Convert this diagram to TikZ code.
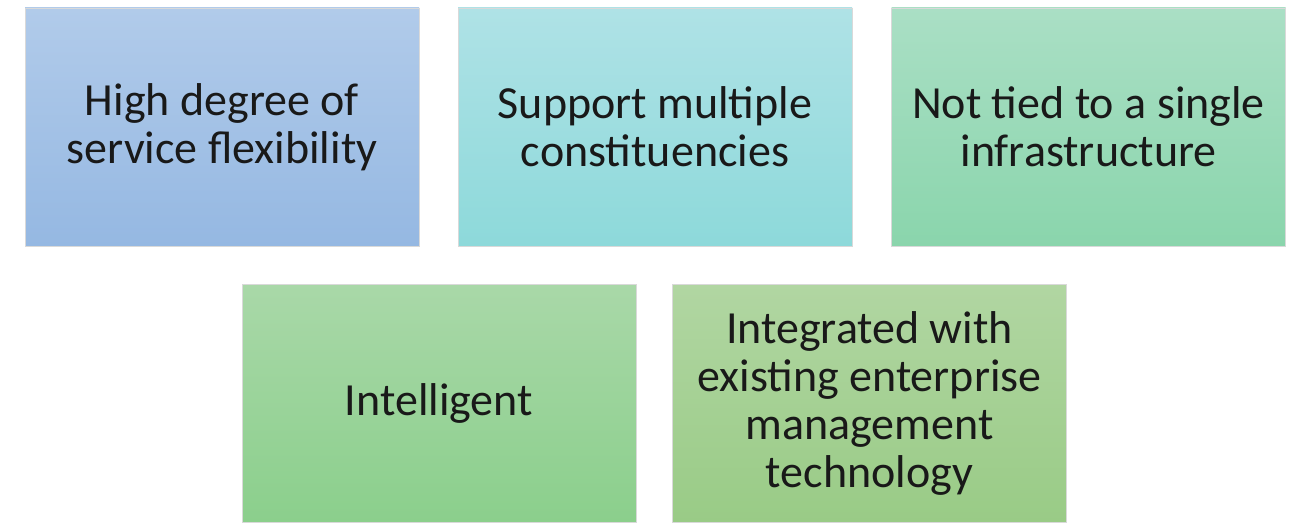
\documentclass[tikz,border=0pt]{standalone}
\usepackage{fontspec}
\setmainfont{Carlito}
\begin{document}
\begin{tikzpicture}[x=1pt,y=-1pt,
  card/.style={draw=black!15, line width=0.8pt, rectangle, minimum width=394pt, minimum height=238pt,
    inner sep=0pt, align=center, font=\fontsize{46}{48}\selectfont, text=black!90, shading=axis, shading angle=0},
]
\definecolor{bTop}{HTML}{B1CBEA}\definecolor{bBot}{HTML}{95B8E2}
\definecolor{cTop}{HTML}{AFE2E6}\definecolor{cBot}{HTML}{8DD9DA}
\definecolor{gTop}{HTML}{AADFC5}\definecolor{gBot}{HTML}{8AD5AC}
\definecolor{lTop}{HTML}{A9D8A8}\definecolor{lBot}{HTML}{8BCF8C}
\definecolor{oTop}{HTML}{B1D6A2}\definecolor{oBot}{HTML}{99CB86}
\useasboundingbox[fill=white] (0,0) rectangle (1300,524);
\node[card, top color=bTop, bottom color=bBot] (a) at (222,127) {High degree of\\service flexibility};
\node[card, top color=cTop, bottom color=cBot] (b) at (655,127) {Support multiple\\constituencies};
\node[card, top color=gTop, bottom color=gBot] (c) at (1088.5,127) {Not tied to a single\\infrastructure};
\node[card, top color=lTop, bottom color=lBot] (d) at (439,403) {Intelligent};
\node[card, top color=oTop, bottom color=oBot] (e) at (869.5,403) {Integrated with\\existing enterprise\\management\\technology};
\end{tikzpicture}
\end{document}
